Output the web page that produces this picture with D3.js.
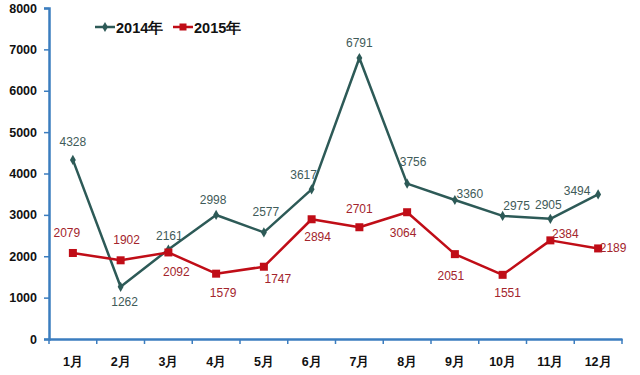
<!DOCTYPE html>
<html><head><meta charset="utf-8">
<script src="https://cdn.jsdelivr.net/npm/d3@7"></script>
<style>body{margin:0;background:#fff}svg{display:block}</style>
</head><body><svg id="c" width="640" height="375"></svg>
<script>
const months = ["1月","2月","3月","4月","5月","6月","7月","8月","9月","10月","11月","12月"];
const series2014 = [4328,1262,2161,2998,2577,3617,6791,3756,3360,2975,2905,3494];
const series2015 = [2079,1902,2092,1579,1747,2894,2701,3064,2051,1551,2384,2189];
const seriesNames = ["2014年","2015年"];
const yTicks = [0,1000,2000,3000,4000,5000,6000,7000,8000];
// label offsets (style)
const off2014 = [[0,-18],[4,15],[1,-14],[-3,-15],[2,-20],[-8,-14],[0,-15],[6,-22],[15,-6],[14,-10],[-2,-14],[-21,-3]];
const off2015 = [[-6,-20],[6,-20],[8,20],[7,19],[14,12],[6,18],[0,-18],[-4,21],[-4,22],[5,18],[15,-6],[15,0]];

const svg = d3.select("#c");
const L=49, R=622, T=8, B=339;
const x = d3.scaleBand().domain(months).range([L,R]);
const y = d3.scaleLinear().domain([0,8000]).range([B,T]);
const axisColor = "#3b7dbf";
const c14 = "#2d5a57", c15 = "#c00d17";
const lab14 = "#3f5b59", lab15 = "#a3242c";
const font = "'Liberation Sans',Arial,sans-serif";

const yAxis = svg.append("g").attr("transform",`translate(${L},0)`)
  .call(d3.axisLeft(y).tickValues(yTicks).tickSize(5).tickPadding(7).tickFormat(d3.format("d")));
const xAxis = svg.append("g").attr("transform",`translate(0,${B})`)
  .call(d3.axisBottom(x).tickSize(0).tickPadding(18));
[yAxis,xAxis].forEach(g=>{
  g.selectAll("path.domain").attr("stroke",axisColor).attr("stroke-width",2.5);
  g.selectAll("line").attr("stroke",axisColor).attr("stroke-width",1.5);
  g.selectAll("text").attr("fill","#111").attr("font-weight","bold")
   .attr("font-family",font).attr("font-size",12.5);
});
// x boundary ticks
svg.append("g").selectAll("line").data(months.concat(["end"])).join("line")
  .attr("x1",(d,i)=>L+i*x.bandwidth()).attr("x2",(d,i)=>L+i*x.bandwidth())
  .attr("y1",B).attr("y2",B+5).attr("stroke",axisColor).attr("stroke-width",1.5);

const cx = (d,i)=>x(months[i])+x.bandwidth()/2;
const line = d3.line().x(cx).y(d=>y(d));

function drawSeries(vals, color, labColor, offs, marker){
  svg.append("path").datum(vals).attr("d",line).attr("fill","none")
    .attr("stroke",color).attr("stroke-width",2.5).attr("stroke-linejoin","round");
  if(marker==="diamond"){
    svg.append("g").selectAll("path").data(vals).join("path")
      .attr("d",d3.symbol(d3.symbolDiamond,30)())
      .attr("transform",(d,i)=>`translate(${cx(d,i)},${y(d)})`).attr("fill",color);
  } else {
    svg.append("g").selectAll("rect").data(vals).join("rect")
      .attr("x",(d,i)=>cx(d,i)-4).attr("y",d=>y(d)-4).attr("width",8).attr("height",8).attr("fill",color);
  }
  svg.append("g").selectAll("text").data(vals).join("text")
    .attr("x",(d,i)=>cx(d,i)+offs[i][0]).attr("y",(d,i)=>y(d)+offs[i][1])
    .attr("text-anchor","middle").attr("dominant-baseline","central")
    .attr("font-family",font).attr("font-size",12)
    .attr("fill",labColor).text(d=>d);
}
drawSeries(series2014,c14,lab14,off2014,"diamond");
drawSeries(series2015,c15,lab15,off2015,"square");

// legend
const lg = svg.append("g").attr("font-family",font)
  .attr("font-size",14.5).attr("font-weight","bold");
const legItems = [{name:seriesNames[0],color:c14,m:"diamond",x:95},{name:seriesNames[1],color:c15,m:"square",x:173}];
legItems.forEach(it=>{
  lg.append("line").attr("x1",it.x).attr("x2",it.x+20).attr("y1",27).attr("y2",27)
    .attr("stroke",it.color).attr("stroke-width",2.5);
  if(it.m==="diamond") lg.append("path").attr("d",d3.symbol(d3.symbolDiamond,30)())
    .attr("transform",`translate(${it.x+10},27)`).attr("fill",it.color);
  else lg.append("rect").attr("x",it.x+6.5).attr("y",23.5).attr("width",7).attr("height",7).attr("fill",it.color);
  lg.append("text").attr("x",it.x+21).attr("y",27.5).attr("dominant-baseline","central")
    .attr("fill","#111").text(it.name);
});
</script></body></html>
